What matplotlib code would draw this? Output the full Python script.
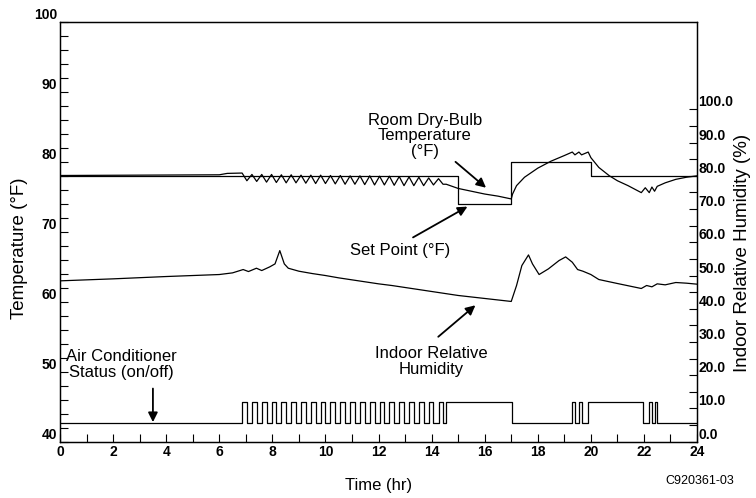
import matplotlib.pyplot as plt
from matplotlib.ticker import MultipleLocator, FixedLocator

plt.rcParams['font.family'] = ['Liberation Sans', 'DejaVu Sans']

# air conditioner on/off switching times (hr)
ac_on = [6.86, 7.23, 7.60, 7.97, 8.34, 8.71, 9.08, 9.45, 9.82, 10.19,
         10.56, 10.93, 11.30, 11.67, 12.04, 12.41, 12.78, 13.15, 13.52, 13.89,
         14.26, 14.55, 19.30, 19.55, 19.88, 22.20, 22.40]
ac_off = [7.04, 7.41, 7.78, 8.15, 8.52, 8.89, 9.26, 9.63, 10.00, 10.37,
          10.74, 11.11, 11.48, 11.85, 12.22, 12.59, 12.96, 13.33, 13.70, 14.07,
          14.43, 17.03, 19.40, 19.65, 21.96, 22.30, 22.50]

# thermostat set point (degF)
sp_time = [0, 15, 15, 17, 17, 20, 20, 24]
sp_temp = [78, 78, 74, 74, 80, 80, 78, 78]

# room dry-bulb temperature (degF): before cycling, peaks at AC on, troughs at AC off, after
room_pre_t = [0, 3, 6.0, 6.3, 6.86]
room_pre_T = [78.05, 78.1, 78.15, 78.35, 78.4]
room_peak = [78.4, 78.2, 78.2, 78.2, 78.15, 78.15, 78.1, 78.1, 78.1, 78.05,
             78.05, 78.0, 78.0, 78.0, 77.95, 77.95, 77.9, 77.85, 77.8, 77.7, 77.6]
room_trough = [77.3, 77.2, 77.1, 77.05, 77.0, 77.0, 76.95, 76.9, 76.9, 76.85,
               76.8, 76.8, 76.75, 76.7, 76.7, 76.65, 76.6, 76.6, 76.6, 76.7, 76.8]
room_post_t = [14.55, 15.0, 15.5, 16.0, 16.5, 17.0, 17.05, 17.2, 17.5, 18.0, 18.5,
               19.0, 19.3, 19.4, 19.55, 19.65, 19.9, 20.0, 20.3, 20.7, 21.0,
               21.4, 21.9, 22.05, 22.2, 22.3, 22.4, 22.5, 22.8, 23.2, 23.6, 24.0]
room_post_T = [76.8, 76.2, 75.8, 75.4, 75.1, 74.7, 75.4, 76.6, 77.8, 79.1, 80.1,
               80.9, 81.4, 81.0, 81.4, 81.0, 81.4, 80.6, 79.2, 78.0, 77.3,
               76.6, 75.6, 76.3, 75.6, 76.4, 75.8, 76.5, 77.0, 77.5, 77.8, 78.0]

# indoor relative humidity (%)
rh_time = [0, 2, 4, 6.0, 6.5, 6.9, 7.1, 7.4, 7.6, 7.9, 8.1, 8.28, 8.45, 8.6,
           9.0, 9.5, 10.0, 10.5, 11.0, 11.5, 12.0, 12.5, 13.0, 13.5, 14.0,
           14.5, 15.0, 16.0, 17.0, 17.2, 17.4, 17.65, 17.8, 18.05, 18.4, 18.8,
           19.05, 19.3, 19.5, 19.7, 20.0, 20.3, 21.0, 21.9, 22.1, 22.3, 22.5,
           22.8, 23.2, 23.6, 24.0]
rh_val = [48.4, 49.0, 49.7, 50.3, 50.8, 51.8, 51.2, 52.2, 51.5, 52.6, 53.5, 57.5, 53.5, 52.2,
          51.3, 50.6, 50.0, 49.3, 48.7, 48.1, 47.5, 47.0, 46.4, 45.8, 45.2,
          44.6, 44.0, 43.1, 42.2, 47.0, 53.0, 56.2, 53.5, 50.3, 52.0, 54.5,
          55.6, 54.0, 51.8, 51.3, 50.3, 48.8, 47.6, 46.1, 47.0, 46.6, 47.5,
          47.2, 47.9, 47.7, 47.4]

ac_base = 42.7
ac_high = 45.7

room_t = list(room_pre_t)
room_T = list(room_pre_T)
for on, off, pk, tr in zip(ac_on[:21], ac_off[:21], room_peak, room_trough):
    room_t += [on, off]
    room_T += [pk, tr]
room_t += room_post_t
room_T += room_post_T

ac_t = [0]
ac_y = [ac_base]
for on, off in zip(ac_on, ac_off):
    ac_t += [on, on, off, off]
    ac_y += [ac_base, ac_high, ac_high, ac_base]
ac_t.append(24)
ac_y.append(ac_base)

fig = plt.figure(figsize=(7.56, 4.98), dpi=100)
ax = fig.add_axes([0.0794, 0.113, 0.8426, 0.843])
ax2 = ax.twinx()

lw = 0.9
ax.plot(sp_time, sp_temp, color='k', lw=lw)
ax.plot(room_t, room_T, color='k', lw=lw)
ax.plot(ac_t, ac_y, color='k', lw=lw)
ax2.plot(rh_time, rh_val, color='k', lw=lw)

ax.set_xlim(0, 24)
ax.set_ylim(40, 100)
ax2.set_ylim(0, 126.3)

ax.xaxis.set_major_locator(MultipleLocator(2))
ax.xaxis.set_minor_locator(MultipleLocator(1))
ax.yaxis.set_major_locator(MultipleLocator(10))
ax.yaxis.set_minor_locator(MultipleLocator(2))
ax2.yaxis.set_major_locator(FixedLocator(list(range(0, 101, 10))))
ax2.yaxis.set_minor_locator(FixedLocator(list(range(5, 100, 10))))
ax2.set_yticklabels([f"{v:.1f}" for v in range(0, 101, 10)])

ax.tick_params(axis='both', which='both', direction='in', length=6, width=0.8,
               labelsize=10, pad=2)
ax.tick_params(axis='x', which='both', top=False)
ax2.tick_params(axis='y', which='both', direction='in', length=6, width=0.8,
                labelsize=10, pad=1)
for lab in ax.get_yticklabels() + ax2.get_yticklabels():
    lab.set_verticalalignment('bottom')
    lab.set_fontweight('bold')
for lab in ax.get_xticklabels():
    lab.set_fontweight('bold')

for a in (ax, ax2):
    for s in a.spines.values():
        s.set_linewidth(0.9)

ax.set_xlabel("Time (hr)", fontsize=12, labelpad=14)
ax.set_ylabel("Temperature (°F)", fontsize=13.5)
ax2.set_ylabel("Indoor Relative Humidity (%)", fontsize=13.5)
ax.yaxis.set_label_coords(-0.050, 0.46)
ax2.yaxis.set_label_coords(1.058, 0.45)

txt = dict(fontsize=12, ha='center', va='center', linespacing=1.05)
arrow = dict(arrowstyle='-|>', color='k', lw=1.3, mutation_scale=14,
             shrinkA=0, shrinkB=0)
ax.annotate("Room Dry-Bulb\nTemperature\n(°F)", xy=(16.05, 76.3), xytext=(13.75, 83.7),
            arrowprops=arrow, **txt)
ax.annotate("", xy=(15.35, 73.6), xytext=(13.3, 69.2), arrowprops=arrow)
ax.text(12.8, 67.3, "Set Point (°F)", **txt)
ax.annotate("", xy=(15.65, 59.5), xytext=(14.25, 55.0), arrowprops=arrow)
ax.text(14.0, 51.5, "Indoor Relative\nHumidity", **txt)
ax.annotate("", xy=(3.5, 42.8), xytext=(3.5, 47.6), arrowprops=arrow)
ax.text(2.3, 51.0, "Air Conditioner\nStatus (on/off)", **txt)

fig.text(0.925, 0.035, "C920361-03", fontsize=9, ha='center', va='center')

fig.savefig("out.png", dpi=100)
